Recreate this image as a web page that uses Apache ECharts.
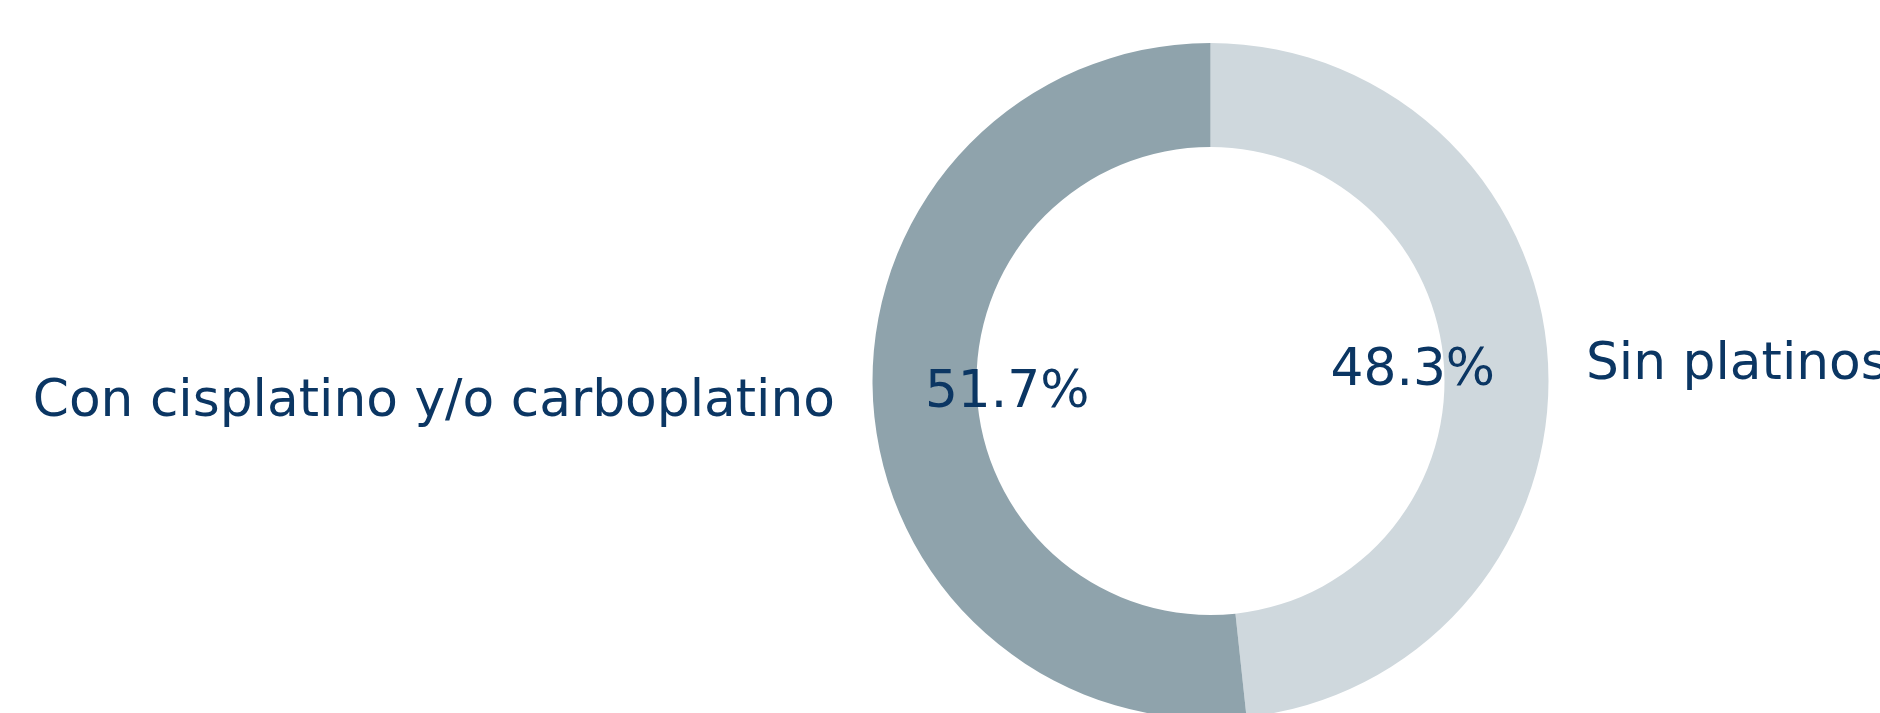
<!DOCTYPE html>
<html>
<head>
<meta charset="utf-8">
<script src="https://cdn.jsdelivr.net/npm/echarts@6/dist/echarts.min.js"></script>
<style>
html,body{margin:0;padding:0;background:#ffffff;}
#chart{width:1880px;height:713px;}
</style>
</head>
<body>
<div id="chart"></div>
<script>
const categories = ['Sin platinos', 'Con cisplatino y/o carboplatino'];
const values = [48.3, 51.7];
const colors = ['#cfd8dd', '#8fa3ac'];

const textColor = '#0b3663';
const fontFamily = 'DejaVu Sans';
const fontSize = 51.8;

const data = categories.map((c, i) => ({ name: c, value: values[i], itemStyle: { color: colors[i] } }));

const chart = echarts.init(document.getElementById('chart'), null, { renderer: 'canvas' });
const common = {
  type: 'pie',
  center: [1210.5, 381],
  radius: [234, 338],
  startAngle: 90,
  clockwise: true,
  avoidLabelOverlap: false,
  animation: false,
  silent: true,
  emphasis: { disabled: true }
};
chart.setOption({
  backgroundColor: '#ffffff',
  animation: false,
  series: [
    Object.assign({}, common, {
      data: data,
      label: {
        show: true,
        position: 'outside',
        formatter: '{b}',
        color: textColor,
        fontFamily: fontFamily,
        fontSize: fontSize,
        overflow: 'none',
        distanceToLabelLine: 5
      },
      labelLine: { show: false, length: 16, length2: 17 },
      labelLayout: function () {
        return { dy: 3 };
      }
    }),
    Object.assign({}, common, {
      data: data.map(d => ({ name: d.name, value: d.value, itemStyle: { color: 'rgba(0,0,0,0)' } })),
      label: {
        show: true,
        position: 'inside',
        formatter: '{c}%',
        color: textColor,
        fontFamily: fontFamily,
        fontSize: fontSize
      },
      labelLine: { show: false },
      labelLayout: function (p) {
        const w = p.labelRect.width;
        return p.dataIndex === 0 ? { dx: -w / 2 - 4, dy: 6 } : { dx: w / 2 + 3, dy: -3 };
      }
    })
  ]
});
</script>
</body>
</html>
